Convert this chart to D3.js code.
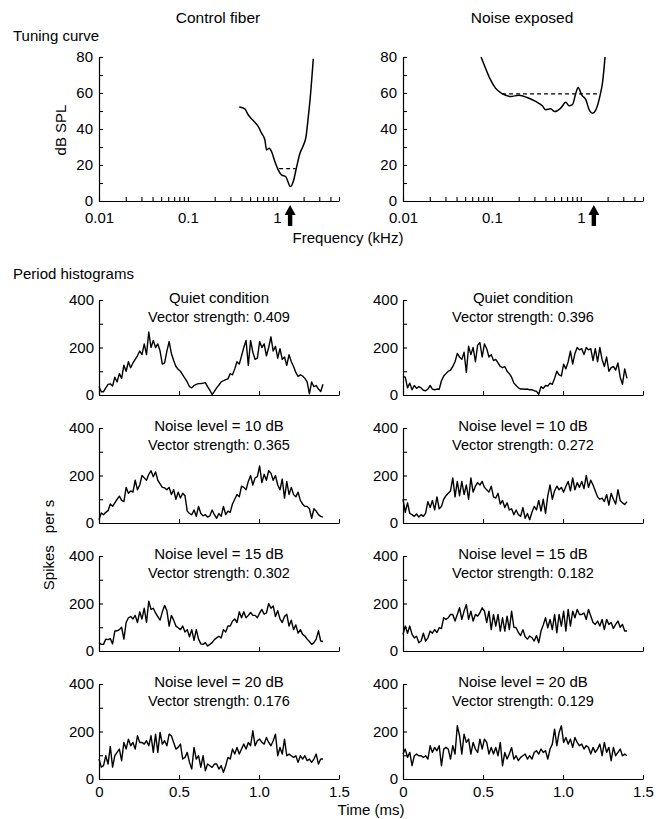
<!DOCTYPE html>
<html lang="en">
<head>
<meta charset="UTF-8">
<title>Tuning curves and period histograms</title>
<script src="https://cdn.jsdelivr.net/npm/d3@7"></script>
<style>
  body { margin: 0; background: #fff; }
  svg { display: block; }
  text { font-family: "Liberation Sans", Arial, Helvetica, sans-serif; fill: #000; }
</style>
</head>
<body>
<div id="chart"></div>
<script>
// ---- data ----
const columnTitles = ["Control fiber", "Noise exposed"];
const dbTicks = [0, 10, 20, 30, 40, 50, 60, 70, 80];
const freqLabels = [0.01, 0.1, 1];
const timeTicks = [0, 0.5, 1.0, 1.5];
const rateTicks = [0, 100, 200, 300, 400];

// tuning curves (kHz, dB SPL)
const controlFreq = [0.378, 0.437, 0.476, 0.542, 0.617, 0.673, 0.733, 0.766, 0.82, 0.871, 0.95, 1.035, 1.13, 1.26, 1.42, 1.53, 1.67, 1.82, 1.99, 2.13, 2.26, 2.36, 2.57];
const controlDb   = [52.2, 51.2, 47.9, 44.7, 41.4, 37.7, 34, 28.4, 29.3, 27.5, 21.9, 17.3, 14.5, 13.5, 8, 10.8, 19, 26.5, 31, 35.8, 47, 56, 79];
const exposedFreq = [0.0755, 0.0845, 0.0962, 0.1096, 0.13, 0.162, 0.201, 0.249, 0.31, 0.369, 0.403, 0.458, 0.508, 0.594, 0.677, 0.738, 0.805, 0.879, 0.933, 1.02, 1.14, 1.24, 1.355, 1.476, 1.65, 1.76, 1.87];
const exposedDb   = [80, 73.9, 67.4, 62.7, 59.6, 58.1, 58.7, 57.5, 55.3, 52.9, 50.7, 51.2, 49.7, 51.6, 54.8, 52.9, 53.5, 60, 63.1, 59, 56.2, 50.7, 48.8, 50.7, 59, 66.4, 80];
const bandFreqs = [[1.06, 1.63], [0.13, 1.65]];
const bandLevels = [18, 59.5];
const charFreqs = [1.41, 1.40];

// period histograms (spikes/s per bin)
const conditions = ["Quiet condition", "Noise level = 10 dB", "Noise level = 15 dB", "Noise level = 20 dB"];
const controlVS = ["0.409", "0.365", "0.302", "0.176"];
const exposedVS = ["0.396", "0.272", "0.182", "0.129"];
const binWidth = 0.01414; // ms

const controlQuiet = [36,14,14,30,45,47,38,75,55,90, 70,125,100,140,115,135,150,165,185,170, 215,170,265,200,230,200,215,185,130,135, 185,225,175,145,120,108,100,85,70,55, 35,30,40,45,48,48,50,52,35,20, 2,15,30,42,55,60,65,68,90,85, 110,140,130,165,200,230,125,230,180,150, 155,225,200,215,165,200,245,185,205,155, 195,150,160,125,170,140,120,95,78,85, 80,70,55,5,55,35,40,25,15,45];
const control10 = [14,42,35,45,52,80,70,85,100,113, 95,90,150,125,135,130,180,140,160,200, 190,180,205,220,195,215,180,165,150,148, 140,150,120,140,100,130,105,125,115,50, 40,35,55,28,70,40,30,35,25,30, 55,35,20,40,28,70,35,50,45,80, 100,120,110,155,150,140,175,200,160,190, 195,240,170,205,180,220,210,180,200,160, 140,185,105,175,120,150,120,110,130,95, 80,70,70,60,20,60,50,35,28,25];
const control15 = [35,28,28,50,48,52,30,84,85,90, 100,50,120,140,145,135,150,120,165,135, 180,120,210,175,180,160,145,130,165,192, 170,105,150,130,105,98,90,105,80,90, 60,90,45,90,50,30,28,35,21,28, 35,48,55,62,55,90,80,105,105,125, 135,120,165,140,165,140,150,162,150,150, 140,160,175,155,160,200,180,190,145,170, 135,120,145,155,105,130,90,110,75,90, 70,63,50,40,28,35,50,85,42,40];
const control20 = [84,50,56,98,63,137,50,98,112,126, 77,154,126,168,140,154,126,182,154,154, 147,161,140,182,112,189,112,196,147,161, 140,189,182,154,126,133,147,84,91,112, 70,42,133,84,98,49,98,35,63,56, 49,63,63,42,56,28,56,91,84,126, 105,133,105,126,147,126,154,140,203,140, 161,168,154,147,175,154,140,161,189,98, 133,105,168,98,105,98,91,98,70,98, 84,98,77,84,70,84,105,63,84,84];
const exposedQuiet = [78,75,30,50,22,40,28,35,30,20, 18,25,40,25,22,25,24,60,80,90, 100,105,120,140,175,160,150,180,95,205, 170,200,140,210,220,160,215,195,160,170, 145,150,135,120,115,120,100,90,75,50, 40,30,25,25,24,25,22,22,18,15, 3,35,28,40,38,50,45,70,100,85, 80,130,110,140,185,130,175,200,190,195, 170,200,190,195,145,195,140,200,150,120, 160,100,115,120,105,135,75,45,110,70];
const exposed10 = [100,45,85,40,35,28,38,25,35,28, 42,90,65,95,55,110,60,70,100,115, 125,135,190,110,175,115,175,120,160,100, 190,130,155,170,160,175,150,140,130,155, 110,105,125,80,95,65,85,55,60,35, 55,35,28,65,20,40,14,45,70,55, 95,50,100,40,115,160,100,135,155,140, 150,130,155,175,135,190,140,170,150,175, 145,200,150,180,160,135,110,100,105,90, 120,75,125,100,80,140,95,85,78,90];
const exposed15 = [70,105,75,105,70,55,62,35,42,75, 42,55,84,75,90,78,98,95,140,133, 140,154,154,126,154,182,133,168,196,133, 168,126,154,147,161,182,168,120,168,90, 154,105,154,84,140,84,147,90,168,100, 98,78,65,90,60,50,63,56,42,65, 35,84,110,140,98,133,90,154,77,154, 105,168,84,175,105,168,140,175,154,154, 160,133,175,147,120,112,126,105,133,90, 133,112,120,95,112,126,100,112,84,84];
const exposed20 = [105,126,91,112,56,98,105,98,98,91, 98,84,140,112,133,119,140,56,126,133, 126,84,140,105,224,182,105,189,154,168, 105,154,126,112,168,126,168,154,105,133, 105,133,98,154,56,112,84,105,133,84, 98,77,91,98,105,84,98,84,112,119, 105,126,112,119,84,126,147,210,140,196, 224,154,175,147,168,133,175,154,140,147, 126,140,133,105,133,112,126,147,98,154, 112,133,77,133,98,112,126,98,105,98];

// ---- layout ----
const W = 661, H = 819;
const colX = [99, 403];
const panelW = 240;
const tuneTop = 57, tuneBottom = 201;
const rowTop = [300, 428, 556, 684];
const rowH = 95;

const svg = d3.select("#chart").append("svg")
    .attr("width", W)
    .attr("height", H);

function styleAxis(g) {
    g.attr("font-size", 15);
    g.selectAll("text").attr("fill", "#000");
    g.selectAll(".tick line").attr("stroke", "#000").attr("stroke-width", 1.1);
    g.select(".domain").attr("stroke", "#000").attr("stroke-width", 1.2);
}

// ---- tuning curves ----
const tuning = [
    {freq: controlFreq, db: controlDb},
    {freq: exposedFreq, db: exposedDb}
];

tuning.forEach((p, k) => {
    const x = d3.scaleLog().domain([0.01, 5]).range([colX[k], colX[k] + panelW]);
    const y = d3.scaleLinear().domain([0, 80]).range([tuneBottom, tuneTop]);
    const g = svg.append("g");

    g.append("g")
        .attr("transform", "translate(0," + tuneBottom + ")")
        .call(d3.axisBottom(x)
            .tickValues(x.ticks())
            .tickSize(-4)
            .tickSizeOuter(0)
            .tickPadding(11)
            .tickFormat(d => freqLabels.some(f => Math.abs(f - d) < 1e-9) ? String(d) : ""))
        .call(styleAxis);

    g.append("g")
        .attr("transform", "translate(" + colX[k] + ",0)")
        .call(d3.axisLeft(y)
            .tickValues(dbTicks)
            .tickSize(-4)
            .tickSizeOuter(0)
            .tickPadding(6)
            .tickFormat(d => d % 20 === 0 ? d : ""))
        .call(styleAxis);

    const pts = p.freq.map((f, i) => [f, p.db[i]]);
    g.append("path")
        .datum(pts)
        .attr("fill", "none")
        .attr("stroke", "#000")
        .attr("stroke-width", 1.5)
        .attr("d", d3.line().x(d => x(d[0])).y(d => y(d[1])).curve(d3.curveMonotoneX));

    g.append("line")
        .attr("x1", x(bandFreqs[k][0]))
        .attr("x2", x(bandFreqs[k][1]))
        .attr("y1", y(bandLevels[k]))
        .attr("y2", y(bandLevels[k]))
        .attr("stroke", "#000")
        .attr("stroke-width", 1.2)
        .attr("stroke-dasharray", "4,3");

    // arrow at characteristic frequency
    g.append("path")
        .attr("transform", "translate(" + x(charFreqs[k]) + "," + (tuneBottom + 4) + ")")
        .attr("d", "M0,0 L5.5,10 L2.2,10 L2.2,21 L-2.2,21 L-2.2,10 L-5.5,10 Z")
        .attr("fill", "#000");

    svg.append("text")
        .attr("x", colX[k] + panelW / 2 - 1)
        .attr("y", 23)
        .attr("text-anchor", "middle")
        .attr("font-size", 15.5)
        .text(columnTitles[k]);
});

// ---- period histograms ----
const histSeries = [
    [controlQuiet, control10, control15, control20],
    [exposedQuiet, exposed10, exposed15, exposed20]
];
const vsLabels = [controlVS, exposedVS];

histSeries.forEach((col, k) => {
    col.forEach((values, r) => {
        const top = rowTop[r];
        const x = d3.scaleLinear().domain([0, 1.5]).range([colX[k], colX[k] + panelW]);
        const y = d3.scaleLinear().domain([0, 400]).range([top + rowH, top]);
        const g = svg.append("g");
        const lastRow = r === rowTop.length - 1;

        g.append("g")
            .attr("transform", "translate(0," + (top + rowH) + ")")
            .call(d3.axisBottom(x)
                .tickValues(timeTicks)
                .tickSize(-4)
                .tickSizeOuter(0)
                .tickPadding(7)
                .tickFormat(d => lastRow ? (d === 0 ? "0" : d3.format(".1f")(d)) : ""))
            .call(styleAxis);

        g.append("g")
            .attr("transform", "translate(" + colX[k] + ",0)")
            .call(d3.axisLeft(y)
                .tickValues(rateTicks)
                .tickSize(-4)
                .tickSizeOuter(0)
                .tickPadding(5)
                .tickFormat(d => d % 200 === 0 ? d : ""))
            .call(styleAxis);

        g.append("path")
            .datum(values)
            .attr("fill", "none")
            .attr("stroke", "#000")
            .attr("stroke-width", 1.4)
            .attr("stroke-linejoin", "round")
            .attr("d", d3.line().x((d, i) => x(i * binWidth)).y(d => y(d)));

        g.append("text")
            .attr("x", colX[k] + panelW / 2)
            .attr("y", top + 3)
            .attr("text-anchor", "middle")
            .attr("font-size", 15)
            .text(conditions[r]);

        g.append("text")
            .attr("x", colX[k] + panelW / 2)
            .attr("y", top + 22)
            .attr("text-anchor", "middle")
            .attr("font-size", 14.5)
            .text("Vector strength: " + vsLabels[k][r]);
    });
});

// ---- section and axis labels ----
svg.append("text").attr("x", 13).attr("y", 41).attr("font-size", 15).text("Tuning curve");
svg.append("text").attr("x", 13).attr("y", 279).attr("font-size", 15).text("Period histograms");

svg.append("text")
    .attr("transform", "translate(66,130) rotate(-90)")
    .attr("text-anchor", "middle")
    .attr("font-size", 15)
    .text("dB SPL");

svg.append("text")
    .attr("x", 348).attr("y", 243)
    .attr("text-anchor", "middle")
    .attr("font-size", 15)
    .text("Frequency (kHz)");

const spikes = svg.append("text")
    .attr("transform", "translate(54,545) rotate(-90)")
    .attr("text-anchor", "middle")
    .attr("font-size", 15);
spikes.append("tspan").text("Spikes");
spikes.append("tspan").attr("dx", 12).text("per s");

svg.append("text")
    .attr("x", 371).attr("y", 815)
    .attr("text-anchor", "middle")
    .attr("font-size", 15)
    .text("Time (ms)");
</script>
</body>
</html>
